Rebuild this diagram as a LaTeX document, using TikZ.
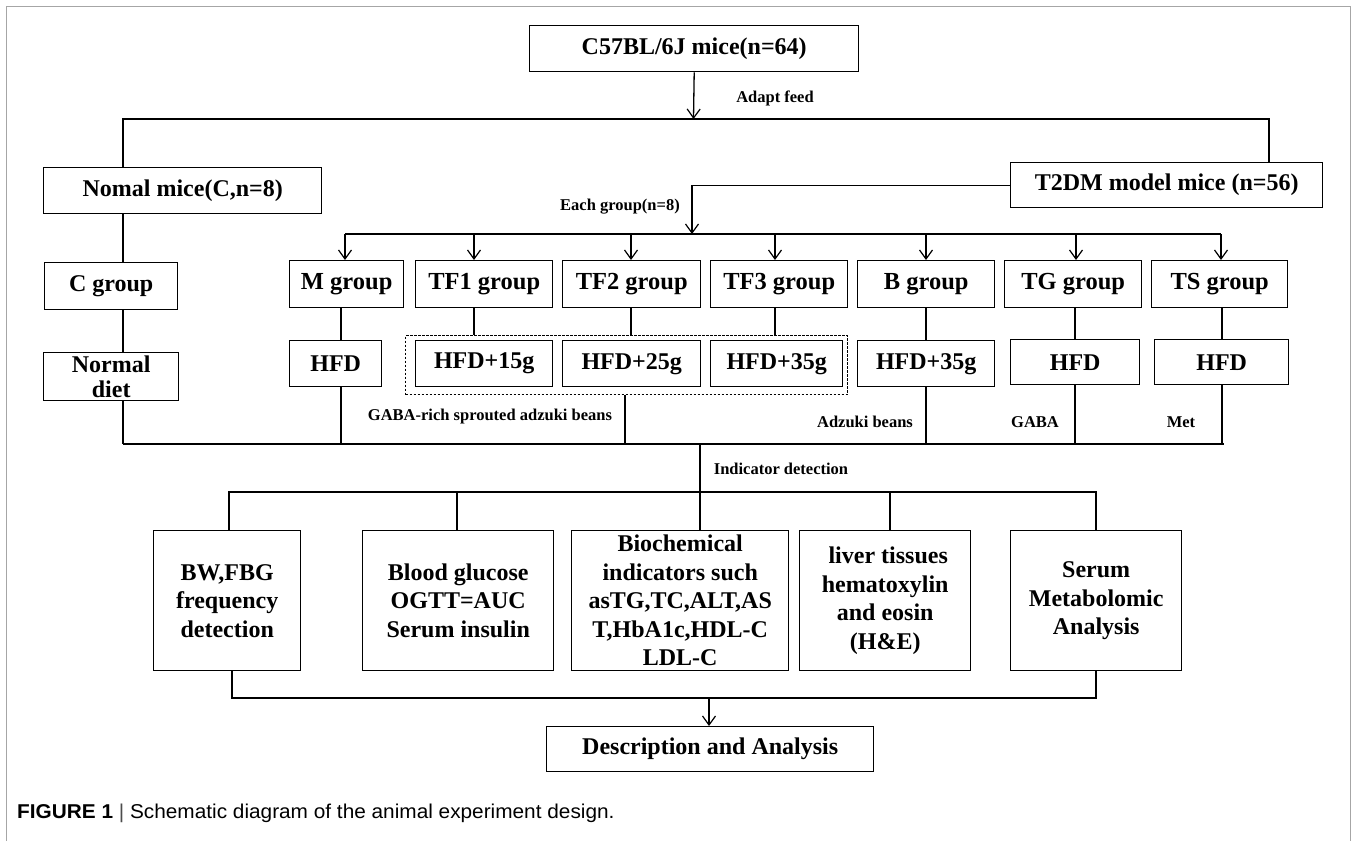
\documentclass[tikz,border=0pt]{standalone}
\usepackage{fontspec}
\setmainfont{Liberation Serif}
\setsansfont{Liberation Sans}
\usetikzlibrary{arrows.meta}
\begin{document}
\begin{tikzpicture}[x=1pt,y=-1pt,
  box/.style={draw, line width=1.4pt, inner sep=0pt, anchor=north west, align=center,
    font=\bfseries\fontsize{24}{28.5}\selectfont},
  gbox/.style={box, font=\bfseries\fontsize{24.5}{28}\selectfont},
  conn/.style={line width=1.3pt},
  arr/.style={conn, -{Straight Barb[length=9pt,width=13pt,line width=1.2pt]}},
  lbl/.style={font=\bfseries\fontsize{16.5}{19}\selectfont, inner sep=0pt},
  frame/.style={draw=gray!70, line width=1pt}
]
\useasboundingbox (0,0) rectangle (1357,841);
\draw[frame] (6,841) -- (6,6) -- (1350,6) -- (1350,841);

% top level
\node[box, minimum width=329pt, minimum height=46pt] (top) at (529,25) {C57BL/6J mice(n=64)};
\node[box, minimum width=278pt, minimum height=46pt] (nomal) at (43,167) {Nomal mice(C,n=8)};
\node[box, minimum width=312pt, minimum height=45pt] (t2dm) at (1010,162) {T2DM model mice (n=56)};
\coordinate (split) at (693.5,119);
\draw[arr] (top.south) -- (split);
\draw[conn] (nomal.north -| 123,0) |- (split) -| (t2dm.north -| 1269,0);
\node[lbl] (adapt) at (775,98) {Adapt feed};

% control branch
\node[box, minimum width=133pt, minimum height=47pt] (cgrp) at (44,262) {C group};
\node[box, minimum width=135pt, minimum height=48pt, font=\bfseries\fontsize{24}{25}\selectfont] (ndiet) at (43,352) {Normal\\diet};
\draw[conn] (nomal.south -| 123,0) -- (cgrp.north -| 123,0);
\draw[conn] (cgrp.south -| 123,0) -- (ndiet.north -| 123,0);

% model groups
\coordinate (gsplit) at (692,234);
\draw[arr] (t2dm.west) -| (gsplit);
\node[lbl] (each) at (620,207) {Each group(n=8)};
\draw[conn] (345,234) -- (1221,234);

\node[gbox, minimum width=114pt, minimum height=47pt] (mgrp) at (289,260) {M group};
\node[gbox, minimum width=137pt, minimum height=47pt] (tf1) at (415,260) {TF1 group};
\node[gbox, minimum width=138pt, minimum height=47pt] (tf2) at (562,260) {TF2 group};
\node[gbox, minimum width=137pt, minimum height=47pt] (tf3) at (710,260) {TF3 group};
\node[gbox, minimum width=137pt, minimum height=47pt] (bgrp) at (857,260) {B group};
\node[gbox, minimum width=137pt, minimum height=47pt] (tg) at (1004,260) {TG group};
\node[gbox, minimum width=136pt, minimum height=47pt] (ts) at (1151,260) {TS group};

\draw[arr] (345,234) -- (mgrp.north -| 345,0);
\draw[arr] (474,234) -- (tf1.north -| 474,0);
\draw[arr] (631,234) -- (tf2.north -| 631,0);
\draw[arr] (775,234) -- (tf3.north -| 775,0);
\draw[arr] (926,234) -- (bgrp.north -| 926,0);
\draw[arr] (1076,234) -- (tg.north -| 1076,0);
\draw[arr] (1221,234) -- (ts.north -| 1221,0);

% diets
\node[box, minimum width=92pt, minimum height=46pt] (mh) at (289,340) {HFD};
\node[box, minimum width=137pt, minimum height=46pt] (h15) at (415,340) {HFD+15g};
\node[box, minimum width=138pt, minimum height=46pt] (h25) at (562,340) {HFD+25g};
\node[box, minimum width=132pt, minimum height=46pt] (h35) at (710,340) {HFD+35g};
\node[box, minimum width=137pt, minimum height=46pt] (bh) at (857,340) {HFD+35g};
\node[box, minimum width=129pt, minimum height=45pt] (tgh) at (1010,339) {HFD};
\node[box, minimum width=134pt, minimum height=45pt] (tsh) at (1154,339) {HFD};
\node[draw, line width=1.2pt, dash pattern=on 2.5pt off 1.5pt, anchor=north west, inner sep=0pt,
  minimum width=442pt, minimum height=59pt] (dbox) at (405,335) {};

\draw[conn] (mgrp.south -| 341,0) -- (mh.north -| 341,0);
\draw[conn] (tf1.south -| 474,0) -- (dbox.north -| 474,0);
\draw[conn] (tf2.south -| 631,0) -- (dbox.north -| 631,0);
\draw[conn] (tf3.south -| 775,0) -- (dbox.north -| 775,0);
\draw[conn] (bgrp.south -| 926,0) -- (bh.north -| 926,0);
\draw[conn] (tg.south -| 1075,0) -- (tgh.north -| 1075,0);
\draw[conn] (ts.south -| 1222,0) -- (tsh.north -| 1222,0);

% collector
\coordinate (colL) at (123,444);
\coordinate (colR) at (1224,444);
\draw[conn] (colL) -- (colR);
\draw[conn] (ndiet.south -| colL) -- (colL);
\draw[conn] (mh.south -| 341,0) -- (341,444);
\draw[conn] (dbox.south -| 625,0) -- (625,444);
\draw[conn] (bh.south -| 926,0) -- (926,444);
\draw[conn] (tgh.south -| 1075,0) -- (1075,444);
\draw[conn] (tsh.south -| 1222,0) -- (1222,444);

\node[lbl] (gaba1) at (490,417) {GABA-rich sprouted adzuki beans};
\node[lbl] (adz) at (865,422) {Adzuki beans};
\node[lbl] (gaba2) at (1035,422) {GABA};
\node[lbl] (met) at (1181,422) {Met};

% indicators
\node[box, minimum width=147pt, minimum height=140pt] (bw) at (153,530) {BW,FBG\\frequency\\detection};
\node[box, minimum width=191pt, minimum height=140pt] (blood) at (362,530) {Blood glucose\\OGTT=AUC\\Serum insulin};
\node[box, minimum width=217pt, minimum height=140pt] (bio) at (571,530) {Biochemical\\indicators such\\asTG,TC,ALT,AS\\T,HbA1c,HDL-C\\LDL-C};
\node[box, minimum width=171pt, minimum height=140pt] (liver) at (799,530) {\ liver tissues\\hematoxylin\\and eosin\\(H\&E)};
\node[box, minimum width=171pt, minimum height=140pt] (serum) at (1010,530) {Serum\\Metabolomic\\Analysis};

\draw[conn] (700,444) -- (bio.north -| 700,0);
\node[lbl] (ind) at (781,469) {Indicator detection};
\draw[conn] (bw.north -| 229,0) |- (1096,492) -- (serum.north -| 1096,0);
\draw[conn] (457,492) -- (blood.north -| 457,0);
\draw[conn] (890,492) -- (liver.north -| 890,0);

\node[box, minimum width=327pt, minimum height=45pt] (desc) at (546,726) {Description and Analysis};
\draw[conn] (bw.south -| 232,0) |- (1096,698) -- (serum.south -| 1096,0);
\draw[arr] (709,698) -- (desc.north -| 709,0);

% caption
\node[anchor=west, inner sep=0pt, font=\sffamily\fontsize{20}{22}\selectfont] (cap) at (17,813)
  {\scalebox{1.04}[1]{\textbf{FIGURE 1} {\color{gray!60!black}|} Schematic diagram of the animal experiment design.}};
\end{tikzpicture}
\end{document}
